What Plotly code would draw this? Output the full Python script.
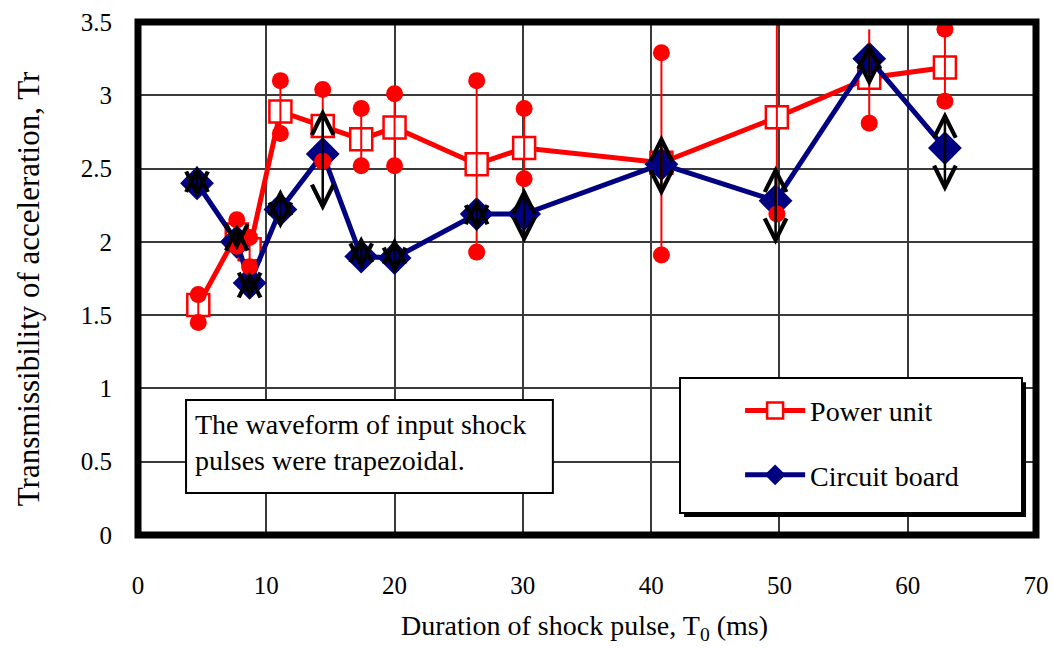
import plotly.graph_objects as go

# Power unit: shock duration (ms), mean Tr, and upper / lower ends of the scatter
pu_t = [4.7, 7.7, 8.7, 11.1, 14.4, 17.4, 20.0, 26.4, 30.1, 40.8, 49.8, 57.0, 62.9]
pu_tr = [1.57, 2.05, 1.95, 2.89, 2.79, 2.70, 2.78, 2.53, 2.64, 2.54, 2.85, 3.12, 3.19]
pu_hi = [1.64, 2.15, 2.03, 3.10, 3.04, 2.91, 3.01, 3.10, 2.91, 3.29, 3.52, 3.45, 3.45]
pu_lo = [1.45, 1.97, 1.83, 2.74, 2.55, 2.52, 2.52, 1.93, 2.43, 1.91, 2.19, 2.81, 2.96]
pu_hi_dot = [True, True, True, True, True, True, True, True, True, True, False, False, True]

# Circuit board: shock duration (ms), mean Tr, and upper / lower ends
cb_t = [4.6, 7.7, 8.7, 11.1, 14.4, 17.4, 20.0, 26.4, 30.1, 40.8, 49.7, 57.0, 62.9]
cb_tr = [2.40, 2.00, 1.72, 2.22, 2.60, 1.90, 1.89, 2.19, 2.19, 2.53, 2.28, 3.25, 2.64]
cb_hi = [2.52, 2.12, 1.80, 2.36, 2.91, 2.04, 2.03, 2.30, 2.37, 2.73, 2.52, 3.36, 2.89]
cb_lo = [2.29, 1.93, 1.60, 2.08, 2.20, 1.80, 1.77, 2.06, 1.98, 2.30, 1.97, 3.05, 2.33]

x_ticks = [0, 10, 20, 30, 40, 50, 60, 70]
y_ticks = [0, 0.5, 1, 1.5, 2, 2.5, 3, 3.5]

SERIF = "Liberation Serif, Times New Roman, serif"
RED = "#ff0000"
NAVY = "#000080"

fig = go.Figure()

fig.add_trace(go.Scatter(
    x=pu_t, y=pu_tr, mode="lines+markers", name="Power unit",
    line=dict(color=RED, width=5),
    marker=dict(symbol="square", size=22, color="white",
                line=dict(color=RED, width=2.5)),
    legendgroup="pu",
))

fig.add_trace(go.Scatter(
    x=cb_t, y=cb_tr, mode="lines+markers", name="Circuit board",
    line=dict(color=NAVY, width=5),
    marker=dict(symbol="diamond", size=26, color=NAVY),
    legendgroup="cb",
))

# thin red range bars for the power unit
fig.add_trace(go.Scatter(
    x=pu_t, y=pu_tr, mode="markers", showlegend=False, hoverinfo="skip",
    marker=dict(size=1, opacity=0),
    error_y=dict(type="data", symmetric=False,
                 array=[h - m for h, m in zip(pu_hi, pu_tr)],
                 arrayminus=[m - l for m, l in zip(pu_tr, pu_lo)],
                 color=RED, thickness=2, width=0),
))

# round end dots of the red range bars
dot_x = list(pu_t) + [t for t, d in zip(pu_t, pu_hi_dot) if d]
dot_y = list(pu_lo) + [h for h, d in zip(pu_hi, pu_hi_dot) if d]
fig.add_trace(go.Scatter(
    x=dot_x, y=dot_y, mode="markers", showlegend=False, hoverinfo="skip",
    marker=dict(symbol="circle", size=17, color=RED),
))

# double-headed black arrows for the circuit board range
annotations = []
for t, hi, lo in zip(cb_t, cb_hi, cb_lo):
    annotations.append(dict(
        x=t, y=hi, ax=t, ay=lo, xref="x", yref="y", axref="x", ayref="y",
        text="", showarrow=True, arrowside="end+start",
        arrowhead=5, startarrowhead=5, arrowsize=1.7, startarrowsize=1.7,
        arrowwidth=2.5, arrowcolor="black",
    ))

annotations.append(dict(
    x=0.061, y=0.181, xref="paper", yref="paper", xanchor="left", yanchor="middle",
    align="left", showarrow=False,
    text="The waveform of input shock<br>pulses were trapezoidal.",
    font=dict(family=SERIF, size=28, color="black"),
))

# axis titles
annotations.append(dict(
    x=-0.1225, y=0.481, xref="paper", yref="paper", xanchor="center", yanchor="middle",
    textangle=-90, showarrow=False,
    text="Transmissibility of acceleration, Tr",
    font=dict(family=SERIF, size=31, color="black"),
))
annotations.append(dict(
    x=0.497, y=-0.181, xref="paper", yref="paper", xanchor="center", yanchor="middle",
    showarrow=False,
    text="Duration of shock pulse, T<sub>0</sub> (ms)",
    font=dict(family=SERIF, size=28, color="black"),
))

shapes = [
    # note box
    dict(type="rect", xref="paper", yref="paper", x0=0.0535, x1=0.462, y0=0.082, y1=0.263,
         line=dict(color="black", width=2), fillcolor="white", layer="above"),
    # legend shadow and box
    dict(type="rect", xref="paper", yref="paper", x0=0.6081, x1=0.9889, y0=0.0351, y1=0.298,
         line=dict(width=0), fillcolor="black", layer="above"),
    dict(type="rect", xref="paper", yref="paper", x0=0.6036, x1=0.9844, y0=0.0429, y1=0.306,
         line=dict(color="black", width=2), fillcolor="white", layer="above"),
    # heavy frame round the plot area
    dict(type="rect", xref="paper", yref="paper", x0=0, x1=1, y0=0, y1=1,
         line=dict(color="black", width=7), layer="above"),
]

fig.update_layout(
    width=1053, height=648,
    margin=dict(l=138, r=17, t=22, b=113, autoexpand=False),
    paper_bgcolor="white", plot_bgcolor="white",
    font=dict(family=SERIF, color="black"),
    showlegend=True,
    legend=dict(x=0.6705, y=0.291, xanchor="left", yanchor="top",
                bgcolor="rgba(0,0,0,0)", borderwidth=0,
                font=dict(family=SERIF, size=28, color="black"),
                traceorder="grouped", tracegroupgap=25, itemwidth=60),
    annotations=annotations,
    shapes=shapes,
    xaxis=dict(range=[0, 70], tickvals=x_ticks, showgrid=True, gridcolor="#3a3a3a", gridwidth=1.5,
               zeroline=False, showline=False, ticks="outside", ticklen=28, automargin=False,
               tickcolor="rgba(0,0,0,0)", tickfont=dict(family=SERIF, size=25)),
    yaxis=dict(range=[0, 3.5], tickvals=y_ticks, showgrid=True, gridcolor="#3a3a3a", gridwidth=1.5,
               zeroline=False, showline=False, ticks="outside", ticklen=20, automargin=False,
               tickcolor="rgba(0,0,0,0)", tickfont=dict(family=SERIF, size=25)),
)

fig.write_html("out.html")
